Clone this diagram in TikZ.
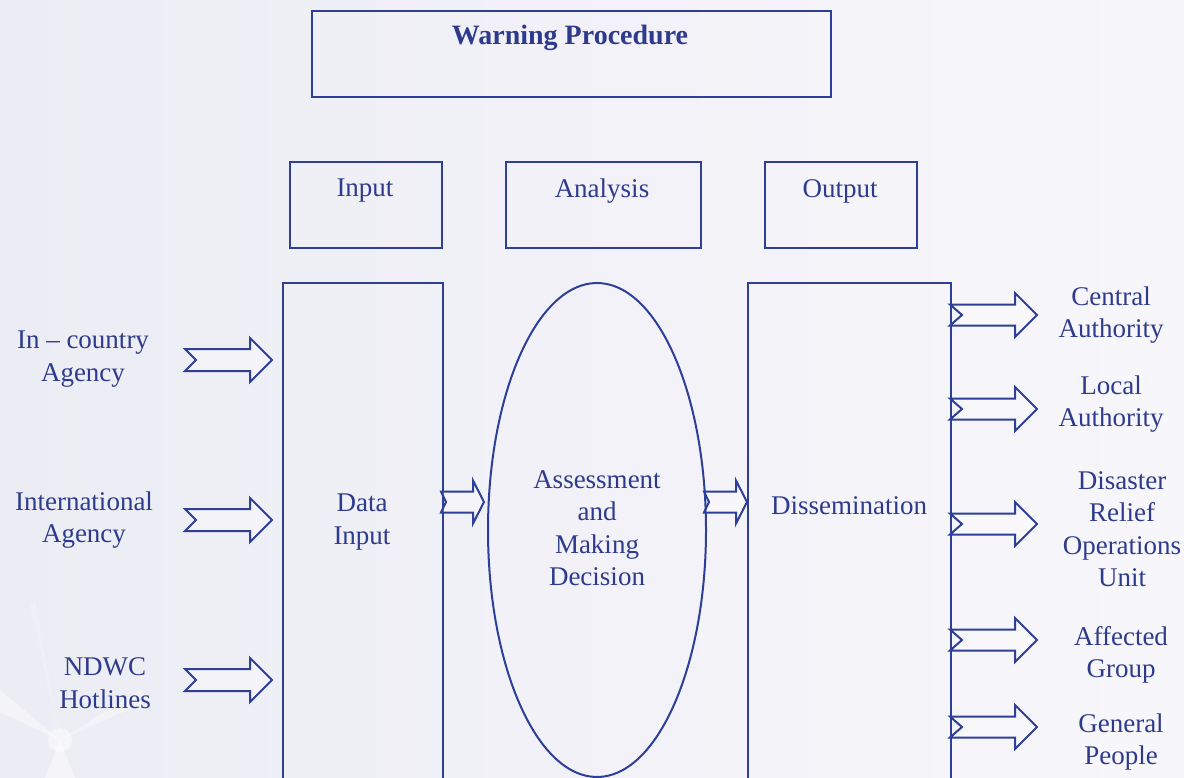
\documentclass[tikz,border=0pt]{standalone}
\usepackage{fontspec}
\setmainfont{Liberation Serif}
\usetikzlibrary{shapes.geometric}
\definecolor{ink}{HTML}{2D3F96}
\definecolor{txt}{HTML}{2E3B8C}
\definecolor{bgl}{HTML}{ECECF4}
\definecolor{bgr}{HTML}{F7F7FB}
\tikzset{
  box/.style={draw=ink, line width=2pt, rectangle, inner sep=0pt},
  lbl/.style={text=txt, font=\fontsize{27}{32.5}\selectfont, align=center, inner sep=0pt},
  arr/.style={draw=ink, line width=2pt, line join=miter, fill=white, fill opacity=0.35},
}
% x0 x1 y bodyhalf headhalf headlen notch
\newcommand{\fatarrow}[7]{%
  \path[arr] (#1,#3-#4) -- (#2-#6,#3-#4) -- (#2-#6,#3-#5) -- (#2,#3) -- (#2-#6,#3+#5) -- (#2-#6,#3+#4) -- (#1,#3+#4) -- (#1+#7,#3) -- cycle;}
\begin{document}
\begin{tikzpicture}[x=1pt,y=-1pt]
\useasboundingbox (0,0) rectangle (1184,778);
\clip (0,0) rectangle (1184,778);
\shade[left color=bgl, right color=bgr] (0,0) rectangle (1184,778);
% faint light rays bottom-left
\fill[white, opacity=0.45] (60,740) -- (0,690) -- (0,712) -- cycle;
\fill[white, opacity=0.45] (60,740) -- (75,778) -- (45,778) -- cycle;
\fill[white, opacity=0.35] (60,740) -- (150,700) -- (140,690) -- cycle;
\fill[white, opacity=0.2] (60,740) -- (35,600) -- (30,605) -- cycle;
\fill[white, opacity=0.5] (60,740) circle (12);

% header boxes
\node[box, minimum width=519, minimum height=86, anchor=north west] (title) at (311,10) {};
\node[text=txt, font=\fontsize{28}{32}\selectfont\bfseries, inner sep=0pt] (titletxt) at (570,38) {Warning Procedure};
\node[box, minimum width=152, minimum height=86, anchor=north west] (input) at (289,161) {};
\node[lbl] at (365,191) {Input};
\node[box, minimum width=195, minimum height=86, anchor=north west] (analysis) at (505,161) {};
\node[lbl] at (602,191) {Analysis};
\node[box, minimum width=152, minimum height=86, anchor=north west] (output) at (764,161) {};
\node[lbl] at (840,191) {Output};

% main blocks
\node[box, minimum width=160, minimum height=520, anchor=north west] (datain) at (282,282) {};
\node[lbl] (datatxt) at (362,522) {Data\\Input};
\node[draw=ink, line width=2pt, ellipse, minimum width=218, minimum height=494, inner sep=0pt] (assess) at (597,530) {};
\node[lbl] (assesstxt) at (597,528) {Assessment\\and\\Making\\Decision};
\node[box, minimum width=203, minimum height=520, anchor=north west] (dissem) at (747,282) {};
\node[lbl] (dissemtxt) at (849,506) {Dissemination};

% left labels
\node[lbl] (inc) at (83,359) {In -- country\\Agency};
\node[lbl] (intl) at (84,520) {International\\Agency};
\node[lbl] (ndwc) at (105,683) {NDWC\\Hotlines};

% right labels
\node[lbl] (central) at (1111,315) {Central\\Authority};
\node[lbl] (local) at (1111,404) {Local\\Authority};
\node[lbl] (drou) at (1122,529) {Disaster\\Relief\\Operations\\Unit};
\node[lbl] (affected) at (1121,655) {Affected\\Group};
\node[lbl] (general) at (1121,742) {General\\People};

% arrows
\fatarrow{185}{272}{360}{11}{22}{22}{11}
\fatarrow{185}{272}{520}{11}{22}{22}{11}
\fatarrow{185}{272}{680}{11}{22}{22}{11}
\fatarrow{441}{484}{502}{10.5}{21.5}{11}{5}
\fatarrow{704}{747}{502}{10.5}{21.5}{11}{5}
\fatarrow{950}{1037}{315}{10.5}{22}{22}{12}
\fatarrow{950}{1037}{409}{10.5}{22}{22}{12}
\fatarrow{950}{1037}{524}{10.5}{22}{22}{12}
\fatarrow{950}{1037}{640}{10.5}{22}{22}{12}
\fatarrow{950}{1037}{727}{10.5}{22}{22}{12}
\end{tikzpicture}
\end{document}
